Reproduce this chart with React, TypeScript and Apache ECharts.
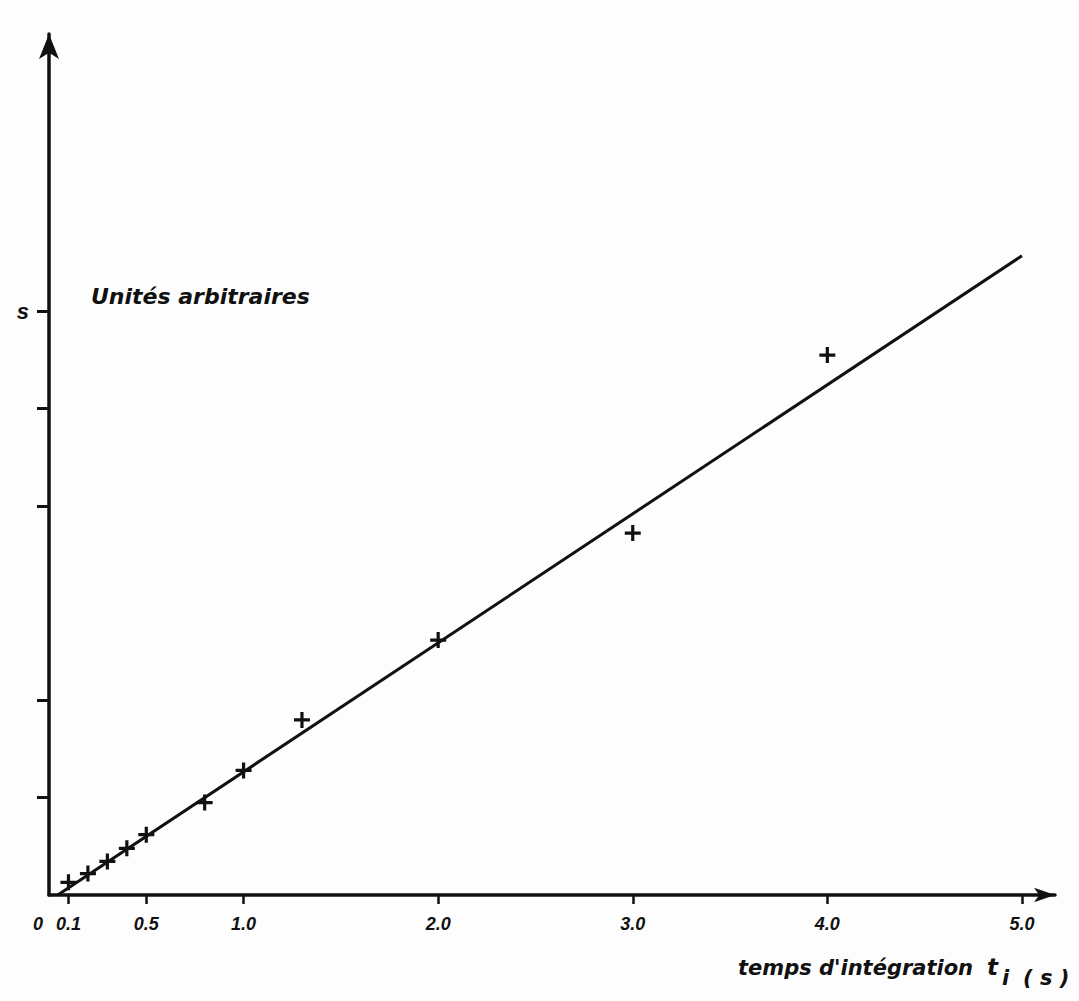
import React, { useEffect, useRef } from "react";
import * as echarts from "echarts";

// ---- data ----
const tValues = [0.1, 0.2, 0.3, 0.4, 0.5, 0.8, 1.0, 1.3, 2.0, 3.0, 4.0];
const sValues = [0.13, 0.22, 0.345, 0.48, 0.62, 0.95, 1.28, 1.8, 2.62, 3.72, 5.55];
const fitX = [0.045, 5.0];
const fitY = [0, 6.57];

const xTickValues = [0.1, 0.5, 1, 2, 3, 4, 5];
const xLabelValues = [0, 0.1, 0.5, 1, 2, 3, 4, 5];
const yTickValues = [1, 2, 4, 5, 6];
const yLabelValues = [6];
const yLabelText = "s";

const unitsText = "Unités arbitraires";
const xTitleMain = "temps d'intégration";
const xTitleSym = "t";
const xTitleSub = "i";
const xTitleUnit = "( s )";

const INK = "#111111";
const LETTER = "DejaVu Sans";
const DIGITS = "Liberation Sans";

const plusPath =
  "path://M4,0H6V4H10V6H6V10H4V6H0V4H4Z";

export default function App() {
  const ref = useRef<HTMLDivElement | null>(null);

  useEffect(() => {
    if (!ref.current) return;
    const chart = echarts.init(ref.current, null, { renderer: "svg" });

    const digitStyle = {
      fontFamily: DIGITS,
      fontWeight: "bold" as const,
      fontStyle: "italic" as const,
      fontSize: 18,
      color: INK,
    };

    const letterStyle = {
      fontFamily: LETTER,
      fontWeight: "bold",
      fontStyle: "italic",
      fill: INK,
      verticalAlign: "middle",
      align: "left",
    };

    const option: any = {
      animation: false,
      backgroundColor: "#fdfdfd",
      grid: { left: 49, right: 24, top: 34, bottom: 106, containLabel: false },
      xAxis: {
        type: "value",
        min: 0,
        max: 5.17,
        axisLine: {
          show: true,
          onZero: false,
          symbol: ["none", "arrow"],
          symbolSize: [11, 21],
          lineStyle: { color: INK, width: 3.5 },
        },
        axisTick: {
          show: true,
          customValues: xTickValues,
          length: 9,
          inside: false,
          lineStyle: { color: INK, width: 2.5 },
        },
        axisLabel: {
          show: true,
          customValues: xLabelValues,
          margin: 20,
          ...digitStyle,
          formatter: (v: number) => (v === 0 ? "{z|0}" : v.toFixed(1)),
          rich: {
            z: { ...digitStyle, padding: [0, 22, 0, 0] },
          },
        },
        splitLine: { show: false },
      },
      yAxis: {
        type: "value",
        min: 0,
        max: 8.85,
        axisLine: {
          show: true,
          onZero: false,
          symbol: ["none", "arrow"],
          symbolSize: [15, 25],
          lineStyle: { color: INK, width: 3.5 },
        },
        axisTick: {
          show: true,
          customValues: yTickValues,
          length: 12,
          lineStyle: { color: INK, width: 3 },
        },
        axisLabel: {
          show: true,
          customValues: yLabelValues,
          margin: 20,
          ...digitStyle,
          fontSize: 22,
          formatter: () => yLabelText,
        },
        splitLine: { show: false },
      },
      graphic: [
        {
          type: "text",
          x: 91,
          y: 296,
          style: { ...letterStyle, text: unitsText, fontSize: 22 },
        },
        {
          type: "text",
          x: 738,
          y: 968,
          style: { ...letterStyle, text: xTitleMain, fontSize: 21 },
        },
        {
          type: "text",
          x: 987,
          y: 967,
          style: { ...letterStyle, text: xTitleSym, fontSize: 23 },
        },
        {
          type: "text",
          x: 1002,
          y: 978,
          style: { ...letterStyle, text: xTitleSub, fontSize: 21 },
        },
        {
          type: "text",
          x: 1023,
          y: 978,
          style: { ...letterStyle, text: xTitleUnit, fontSize: 21 },
        },
      ],
      series: [
        {
          type: "line",
          data: fitX.map((x, i) => [x, fitY[i]]),
          symbol: "none",
          lineStyle: { color: INK, width: 3 },
          silent: true,
          z: 2,
        },
        {
          type: "scatter",
          data: tValues.map((t, i) => [t, sValues[i]]),
          symbol: plusPath,
          symbolSize: 16,
          itemStyle: { color: INK, opacity: 1 },
          z: 3,
        },
      ],
    };

    chart.setOption(option);
    return () => chart.dispose();
  }, []);

  return (
    <div
      ref={ref}
      style={{ position: "absolute", left: 0, top: 0, width: 1079, height: 1001 }}
    />
  );
}
